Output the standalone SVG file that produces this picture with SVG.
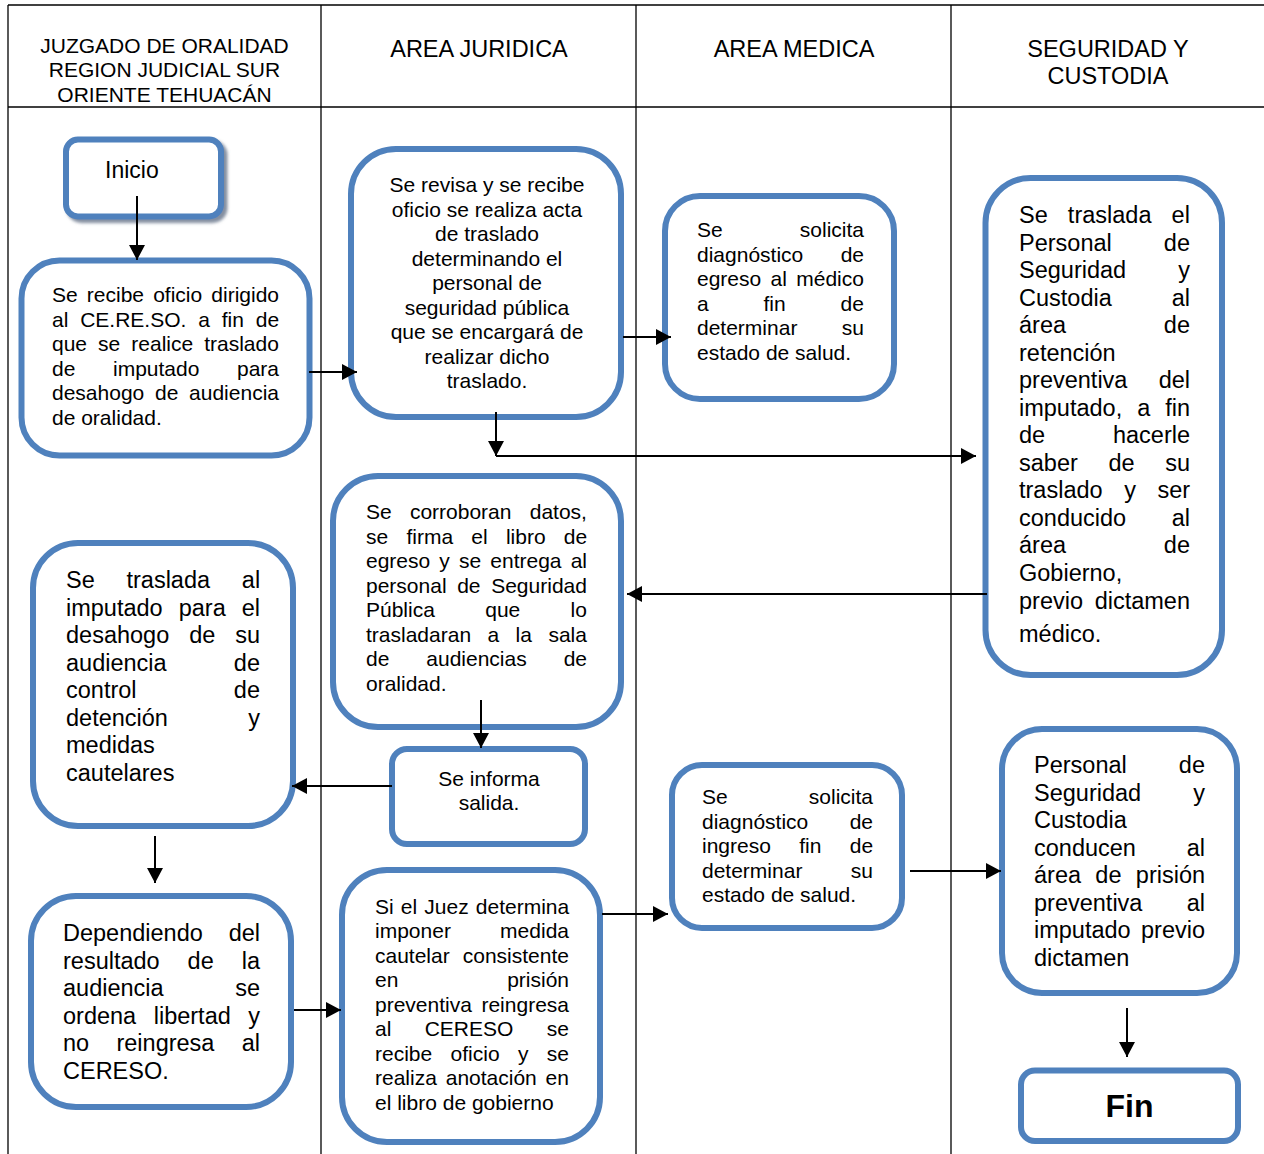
<svg xmlns="http://www.w3.org/2000/svg" width="1264" height="1154" viewBox="0 0 1264 1154">
  <style>
    text { font-family: "Liberation Sans", Arial, sans-serif; fill: #000; }
    .h21 { font-size: 21px; text-anchor: middle; }
    .h23 { font-size: 23.5px; text-anchor: middle; }
    .t21 { font-size: 21px; }
    .t23 { font-size: 23.5px; }
    .c { text-anchor: middle; }
    .e { text-anchor: end; }
    .lane { stroke: #000; stroke-width: 1.3; fill: none; }
    .box { fill: #fff; stroke: #4f81bd; stroke-width: 6; }
    .con { stroke: #000; stroke-width: 2; fill: none; marker-end: url(#arrow); }
  </style>
  <defs>
    <marker id="arrow" markerUnits="userSpaceOnUse" markerWidth="16" markerHeight="16" refX="15" refY="8" orient="auto">
      <path d="M0,0 L15,8 L0,16 Z" fill="#000"/>
    </marker>
    <filter id="shadow" x="-20%" y="-20%" width="140%" height="160%">
      <feDropShadow dx="3.5" dy="3.5" stdDeviation="1.8" flood-color="#6e7b8f" flood-opacity="0.85"/>
    </filter>
  </defs>

  <rect width="1264" height="1154" fill="#fff"/>

  <!-- swimlane table -->
  <g id="lanes">
    <line class="lane" x1="8" y1="5" x2="1264" y2="5"/>
    <line class="lane" x1="8" y1="107" x2="1264" y2="107"/>
    <line class="lane" x1="8" y1="5" x2="8" y2="1154"/>
    <line class="lane" x1="321" y1="5" x2="321" y2="1154"/>
    <line class="lane" x1="636" y1="5" x2="636" y2="1154"/>
    <line class="lane" x1="951" y1="5" x2="951" y2="1154"/>
    <text class="h21" x="164.5" y="52.5">JUZGADO DE ORALIDAD</text>
    <text class="h21" x="164.5" y="77">REGION JUDICIAL SUR</text>
    <text class="h21" x="164.5" y="101.5">ORIENTE TEHUACÁN</text>
    <text class="h23" x="479" y="56.5">AREA JURIDICA</text>
    <text class="h23" x="794" y="56.5">AREA MEDICA</text>
    <text class="h23" x="1108" y="56.5">SEGURIDAD Y</text>
    <text class="h23" x="1108" y="83.5">CUSTODIA</text>
  </g>

  <!-- Inicio -->
  <g id="inicio">
    <rect class="box" x="66" y="139.5" width="155" height="77" rx="12" filter="url(#shadow)"/>
    <text x="105" y="178" style="font-size:23px">Inicio</text>
  </g>

  <!-- Recepción del oficio -->
  <g id="recibe-oficio">
    <rect class="box" x="21.5" y="260.5" width="288" height="195" rx="38"/>
    <text class="t21" x="52" y="302" word-spacing="3.3">Se recibe oficio dirigido</text>
    <text class="t21" x="52" y="326.5" word-spacing="6">al CE.RE.SO. a fin de</text>
    <text class="t21" x="52" y="351" word-spacing="5.2">que se realice traslado</text>
    <text class="t21" x="52" y="375.5" word-spacing="31.8">de imputado para</text>
    <text class="t21" x="52" y="400" word-spacing="4.9">desahogo de audiencia</text>
    <text class="t21" x="52" y="424.5">de oralidad.</text>
  </g>

  <!-- Acta de traslado -->
  <g id="acta-traslado">
    <rect class="box" x="351" y="149" width="270" height="268" rx="45"/>
    <text class="t21 c" x="487" y="192">Se revisa y se recibe</text>
    <text class="t21 c" x="487" y="216.5">oficio se realiza acta</text>
    <text class="t21 c" x="487" y="241">de traslado</text>
    <text class="t21 c" x="487" y="265.5">determinando el</text>
    <text class="t21 c" x="487" y="290">personal de</text>
    <text class="t21 c" x="487" y="314.5">seguridad pública</text>
    <text class="t21 c" x="487" y="339">que se encargará de</text>
    <text class="t21 c" x="487" y="363.5">realizar dicho</text>
    <text class="t21 c" x="487" y="388">traslado.</text>
  </g>

  <!-- Diagnóstico de egreso -->
  <g id="diagnostico-egreso">
    <rect class="box" x="665" y="196" width="229" height="203" rx="35"/>
    <text class="t21" y="237"><tspan x="697">Se</tspan><tspan class="e" x="864">solicita</tspan></text>
    <text class="t21" y="261.5"><tspan x="697">diagnóstico</tspan><tspan class="e" x="864">de</tspan></text>
    <text class="t21" x="697" y="286" word-spacing="3.5">egreso al médico</text>
    <text class="t21" x="697" y="310.5" word-spacing="49">a fin de</text>
    <text class="t21" y="335"><tspan x="697">determinar</tspan><tspan class="e" x="864">su</tspan></text>
    <text class="t21" x="697" y="359.5">estado de salud.</text>
  </g>

  <!-- Traslado de Seguridad y Custodia -->
  <g id="traslado-custodia">
    <rect class="box" x="985.5" y="178" width="236.5" height="497" rx="45"/>
    <text class="t23" x="1019" y="223" word-spacing="13.6">Se traslada el</text>
    <text class="t23" y="250.5"><tspan x="1019">Personal</tspan><tspan class="e" x="1190">de</tspan></text>
    <text class="t23" y="278"><tspan x="1019">Seguridad</tspan><tspan class="e" x="1190">y</tspan></text>
    <text class="t23" y="305.5"><tspan x="1019">Custodia</tspan><tspan class="e" x="1190">al</tspan></text>
    <text class="t23" y="333"><tspan x="1019">área</tspan><tspan class="e" x="1190">de</tspan></text>
    <text class="t23" x="1019" y="360.5">retención</text>
    <text class="t23" y="388"><tspan x="1019">preventiva</tspan><tspan class="e" x="1190">del</tspan></text>
    <text class="t23" x="1019" y="415.5" word-spacing="8.4">imputado, a fin</text>
    <text class="t23" y="443"><tspan x="1019">de</tspan><tspan class="e" x="1190">hacerle</tspan></text>
    <text class="t23" x="1019" y="470.5" word-spacing="24.1">saber de su</text>
    <text class="t23" x="1019" y="498" word-spacing="15">traslado y ser</text>
    <text class="t23" y="525.5"><tspan x="1019">conducido</tspan><tspan class="e" x="1190">al</tspan></text>
    <text class="t23" y="553"><tspan x="1019">área</tspan><tspan class="e" x="1190">de</tspan></text>
    <text class="t23" x="1019" y="580.5">Gobierno,</text>
    <text class="t23" y="608.5"><tspan x="1019">previo</tspan><tspan class="e" x="1190">dictamen</tspan></text>
    <text class="t23" x="1019" y="641.5">médico.</text>
  </g>

  <!-- Libro de egreso -->
  <g id="libro-egreso">
    <rect class="box" x="333" y="476" width="288" height="251" rx="45"/>
    <text class="t21" x="366" y="519" word-spacing="12.4">Se corroboran datos,</text>
    <text class="t21" x="366" y="543.5" word-spacing="12.4">se firma el libro de</text>
    <text class="t21" x="366" y="568" word-spacing="3.3">egreso y se entrega al</text>
    <text class="t21" x="366" y="592.5" word-spacing="4.8">personal de Seguridad</text>
    <text class="t21" x="366" y="617" word-spacing="44.5">Pública que lo</text>
    <text class="t21" x="366" y="641.5" word-spacing="10.6">trasladaran a la sala</text>
    <text class="t21" x="366" y="666" word-spacing="31.1">de audiencias de</text>
    <text class="t21" x="366" y="690.5">oralidad.</text>
  </g>

  <!-- Traslado a la audiencia -->
  <g id="traslado-audiencia">
    <rect class="box" x="33" y="543" width="260" height="283" rx="45"/>
    <text class="t23" x="66" y="588" word-spacing="25.2">Se traslada al</text>
    <text class="t23" x="66" y="615.5" word-spacing="9.5">imputado para el</text>
    <text class="t23" x="66" y="643" word-spacing="13.4">desahogo de su</text>
    <text class="t23" y="670.5"><tspan x="66">audiencia</tspan><tspan class="e" x="260">de</tspan></text>
    <text class="t23" y="698"><tspan x="66">control</tspan><tspan class="e" x="260">de</tspan></text>
    <text class="t23" y="725.5"><tspan x="66">detención</tspan><tspan class="e" x="260">y</tspan></text>
    <text class="t23" x="66" y="753">medidas</text>
    <text class="t23" x="66" y="780.5">cautelares</text>
  </g>

  <!-- Informe de salida -->
  <g id="informa-salida">
    <rect class="box" x="392" y="749" width="193" height="95" rx="15"/>
    <text class="t21 c" x="489" y="786">Se informa</text>
    <text class="t21 c" x="489" y="810">salida.</text>
  </g>

  <!-- Diagnóstico de ingreso -->
  <g id="diagnostico-ingreso">
    <rect class="box" x="672" y="765" width="230" height="163" rx="30"/>
    <text class="t21" y="804"><tspan x="702">Se</tspan><tspan class="e" x="873">solicita</tspan></text>
    <text class="t21" y="828.5"><tspan x="702">diagnóstico</tspan><tspan class="e" x="873">de</tspan></text>
    <text class="t21" x="702" y="853" word-spacing="22.5">ingreso fin de</text>
    <text class="t21" y="877.5"><tspan x="702">determinar</tspan><tspan class="e" x="873">su</tspan></text>
    <text class="t21" x="702" y="902">estado de salud.</text>
  </g>

  <!-- Conducción a prisión preventiva -->
  <g id="prision-preventiva">
    <rect class="box" x="1002" y="729" width="235" height="264" rx="40"/>
    <text class="t23" y="773"><tspan x="1034">Personal</tspan><tspan class="e" x="1205">de</tspan></text>
    <text class="t23" y="800.5"><tspan x="1034">Seguridad</tspan><tspan class="e" x="1205">y</tspan></text>
    <text class="t23" x="1034" y="828">Custodia</text>
    <text class="t23" y="855.5"><tspan x="1034">conducen</tspan><tspan class="e" x="1205">al</tspan></text>
    <text class="t23" x="1034" y="883" word-spacing="7.8">área de prisión</text>
    <text class="t23" y="910.5"><tspan x="1034">preventiva</tspan><tspan class="e" x="1205">al</tspan></text>
    <text class="t23" y="938"><tspan x="1034">imputado</tspan><tspan class="e" x="1205">previo</tspan></text>
    <text class="t23" x="1034" y="965.5">dictamen</text>
  </g>

  <!-- Fin -->
  <g id="fin">
    <rect class="box" x="1021" y="1070.5" width="217" height="70.5" rx="14"/>
    <text x="1129.5" y="1117" class="c" style="font-size:32px;font-weight:bold">Fin</text>
  </g>

  <!-- Resultado de la audiencia -->
  <g id="resultado-audiencia">
    <rect class="box" x="31" y="896" width="260" height="211" rx="45"/>
    <text class="t23" y="941"><tspan x="63">Dependiendo</tspan><tspan class="e" x="260">del</tspan></text>
    <text class="t23" x="63" y="968.5" word-spacing="21.4">resultado de la</text>
    <text class="t23" y="996"><tspan x="63">audiencia</tspan><tspan class="e" x="260">se</tspan></text>
    <text class="t23" x="63" y="1023.5" word-spacing="11">ordena libertad y</text>
    <text class="t23" x="63" y="1051" word-spacing="20.8">no reingresa al</text>
    <text class="t23" x="63" y="1078.5">CERESO.</text>
  </g>

  <!-- Reingreso al CERESO -->
  <g id="reingreso-cereso">
    <rect class="box" x="342" y="870" width="258" height="272" rx="45"/>
    <text class="t21" x="375" y="913.5" word-spacing="1.3">Si el Juez determina</text>
    <text class="t21" y="938"><tspan x="375">imponer</tspan><tspan class="e" x="569">medida</tspan></text>
    <text class="t21" y="962.5"><tspan x="375">cautelar</tspan><tspan class="e" x="569">consistente</tspan></text>
    <text class="t21" y="987"><tspan x="375">en</tspan><tspan class="e" x="569">prisión</tspan></text>
    <text class="t21" y="1011.5"><tspan x="375">preventiva</tspan><tspan class="e" x="569">reingresa</tspan></text>
    <text class="t21" x="375" y="1036" word-spacing="27.5">al CERESO se</text>
    <text class="t21" x="375" y="1060.5" word-spacing="12.5">recibe oficio y se</text>
    <text class="t21" x="375" y="1085" word-spacing="3">realiza anotación en</text>
    <text class="t21" x="375" y="1109.5">el libro de gobierno</text>
  </g>

  <!-- connectors, drawn over the boxes -->
  <g id="connectors">
    <line class="con" x1="137" y1="196" x2="137" y2="260"/>
    <line class="con" x1="309" y1="372" x2="357" y2="372"/>
    <line class="con" x1="623" y1="337" x2="671" y2="337"/>
    <line class="con" x1="496" y1="412" x2="496" y2="456"/>
    <line class="con" x1="496" y1="456" x2="976" y2="456"/>
    <line class="con" x1="987" y1="594" x2="627" y2="594"/>
    <line class="con" x1="481" y1="700" x2="481" y2="748"/>
    <line class="con" x1="392" y1="786" x2="292" y2="786"/>
    <line class="con" x1="155" y1="836" x2="155" y2="883"/>
    <line class="con" x1="294" y1="1010" x2="341" y2="1010"/>
    <line class="con" x1="602" y1="914" x2="668" y2="914"/>
    <line class="con" x1="910" y1="871" x2="1001" y2="871"/>
    <line class="con" x1="1127" y1="1008" x2="1127" y2="1057"/>
  </g>
</svg>
